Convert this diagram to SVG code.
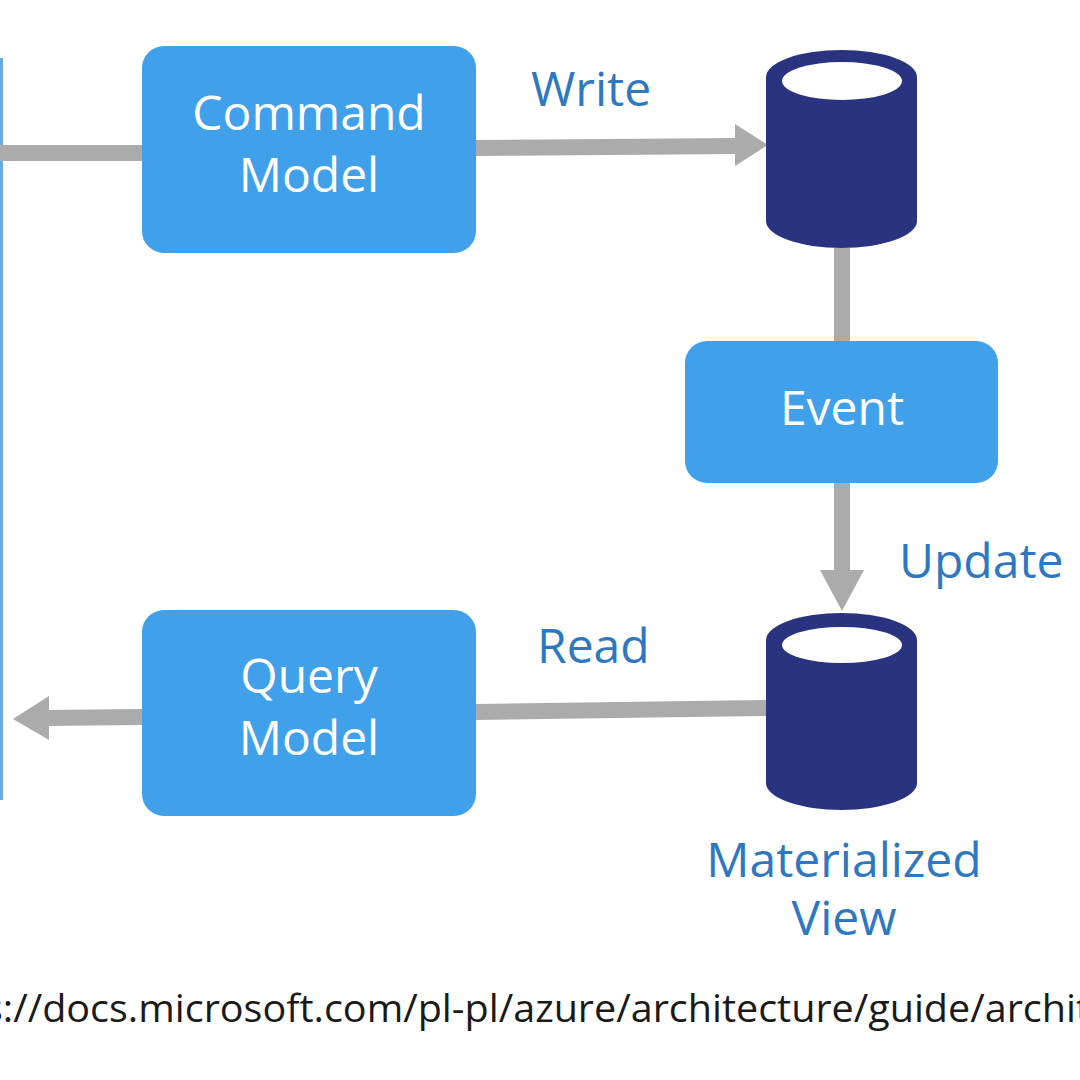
<svg xmlns="http://www.w3.org/2000/svg" width="1080" height="1080" viewBox="0 0 1080 1080">
<defs>
<style>
.box{fill:#41a0ea}
.db{fill:#29337f}
.hole{fill:#ffffff}
.wt{fill:#ffffff;font-family:"Open Sans","Noto Sans",sans-serif;font-size:48px;text-anchor:middle}
.lb{fill:#2e78c2;font-family:"Open Sans","Noto Sans",sans-serif;font-size:48px}
.ln{stroke:#ababab;stroke-width:16;fill:none}
.ah{fill:#ababab}
</style>
</defs>
<rect width="1080" height="1080" fill="#ffffff"/>
<g id="client">
<line x1="1.5" y1="58" x2="1.5" y2="800" stroke="#6aaae0" stroke-width="3"/>
</g>
<g id="connectors">
<line class="ln" x1="0" y1="153" x2="142" y2="153"/>
<line class="ln" x1="476" y1="148" x2="740" y2="146"/>
<polygon class="ah" points="735,124 768,145 735,166"/>
<line class="ln" x1="842" y1="248" x2="842" y2="341"/>
<line class="ln" x1="842" y1="483" x2="842" y2="575"/>
<polygon class="ah" points="820,570 864,570 842,611"/>
<line class="ln" x1="766" y1="708" x2="476" y2="712"/>
<line class="ln" x1="142" y1="717" x2="45" y2="718"/>
<polygon class="ah" points="49,696 49,740 13,719"/>
</g>
<g id="command-model">
<rect class="box" x="142" y="46" width="334" height="207" rx="22"/>
<text class="wt" x="309" y="130">Command</text>
<text class="wt" x="309" y="192">Model</text>
</g>
<g id="write-store">
<path class="db" d="M766,77 A75.5,27 0 0 1 917,77 V221 A75.5,27 0 0 1 766,221 Z"/>
<ellipse class="hole" cx="842" cy="81" rx="60" ry="19"/>
</g>
<g id="event">
<rect class="box" x="685" y="341" width="313" height="142" rx="22"/>
<text class="wt" x="842" y="425">Event</text>
</g>
<g id="materialized-view">
<path class="db" d="M766,640 A75.5,27 0 0 1 917,640 V783 A75.5,27 0 0 1 766,783 Z"/>
<ellipse class="hole" cx="842" cy="645" rx="60" ry="18"/>
<text class="lb" x="844" y="877" text-anchor="middle">Materialized</text>
<text class="lb" x="844" y="935" text-anchor="middle">View</text>
</g>
<g id="query-model">
<rect class="box" x="142" y="610" width="334" height="206" rx="22"/>
<text class="wt" x="309" y="693">Query</text>
<text class="wt" x="309" y="755">Model</text>
</g>
<g id="labels">
<text class="lb" x="531" y="106">Write</text>
<text class="lb" x="899" y="578">Update</text>
<text class="lb" x="537" y="663">Read</text>
</g>
<g id="source">
<text x="-16" y="1022" font-family="'Open Sans','Noto Sans',sans-serif" font-size="38" fill="#1a1a1a" textLength="1106" lengthAdjust="spacingAndGlyphs">s://docs.microsoft.com/pl-pl/azure/architecture/guide/archit</text>
</g>
</svg>
